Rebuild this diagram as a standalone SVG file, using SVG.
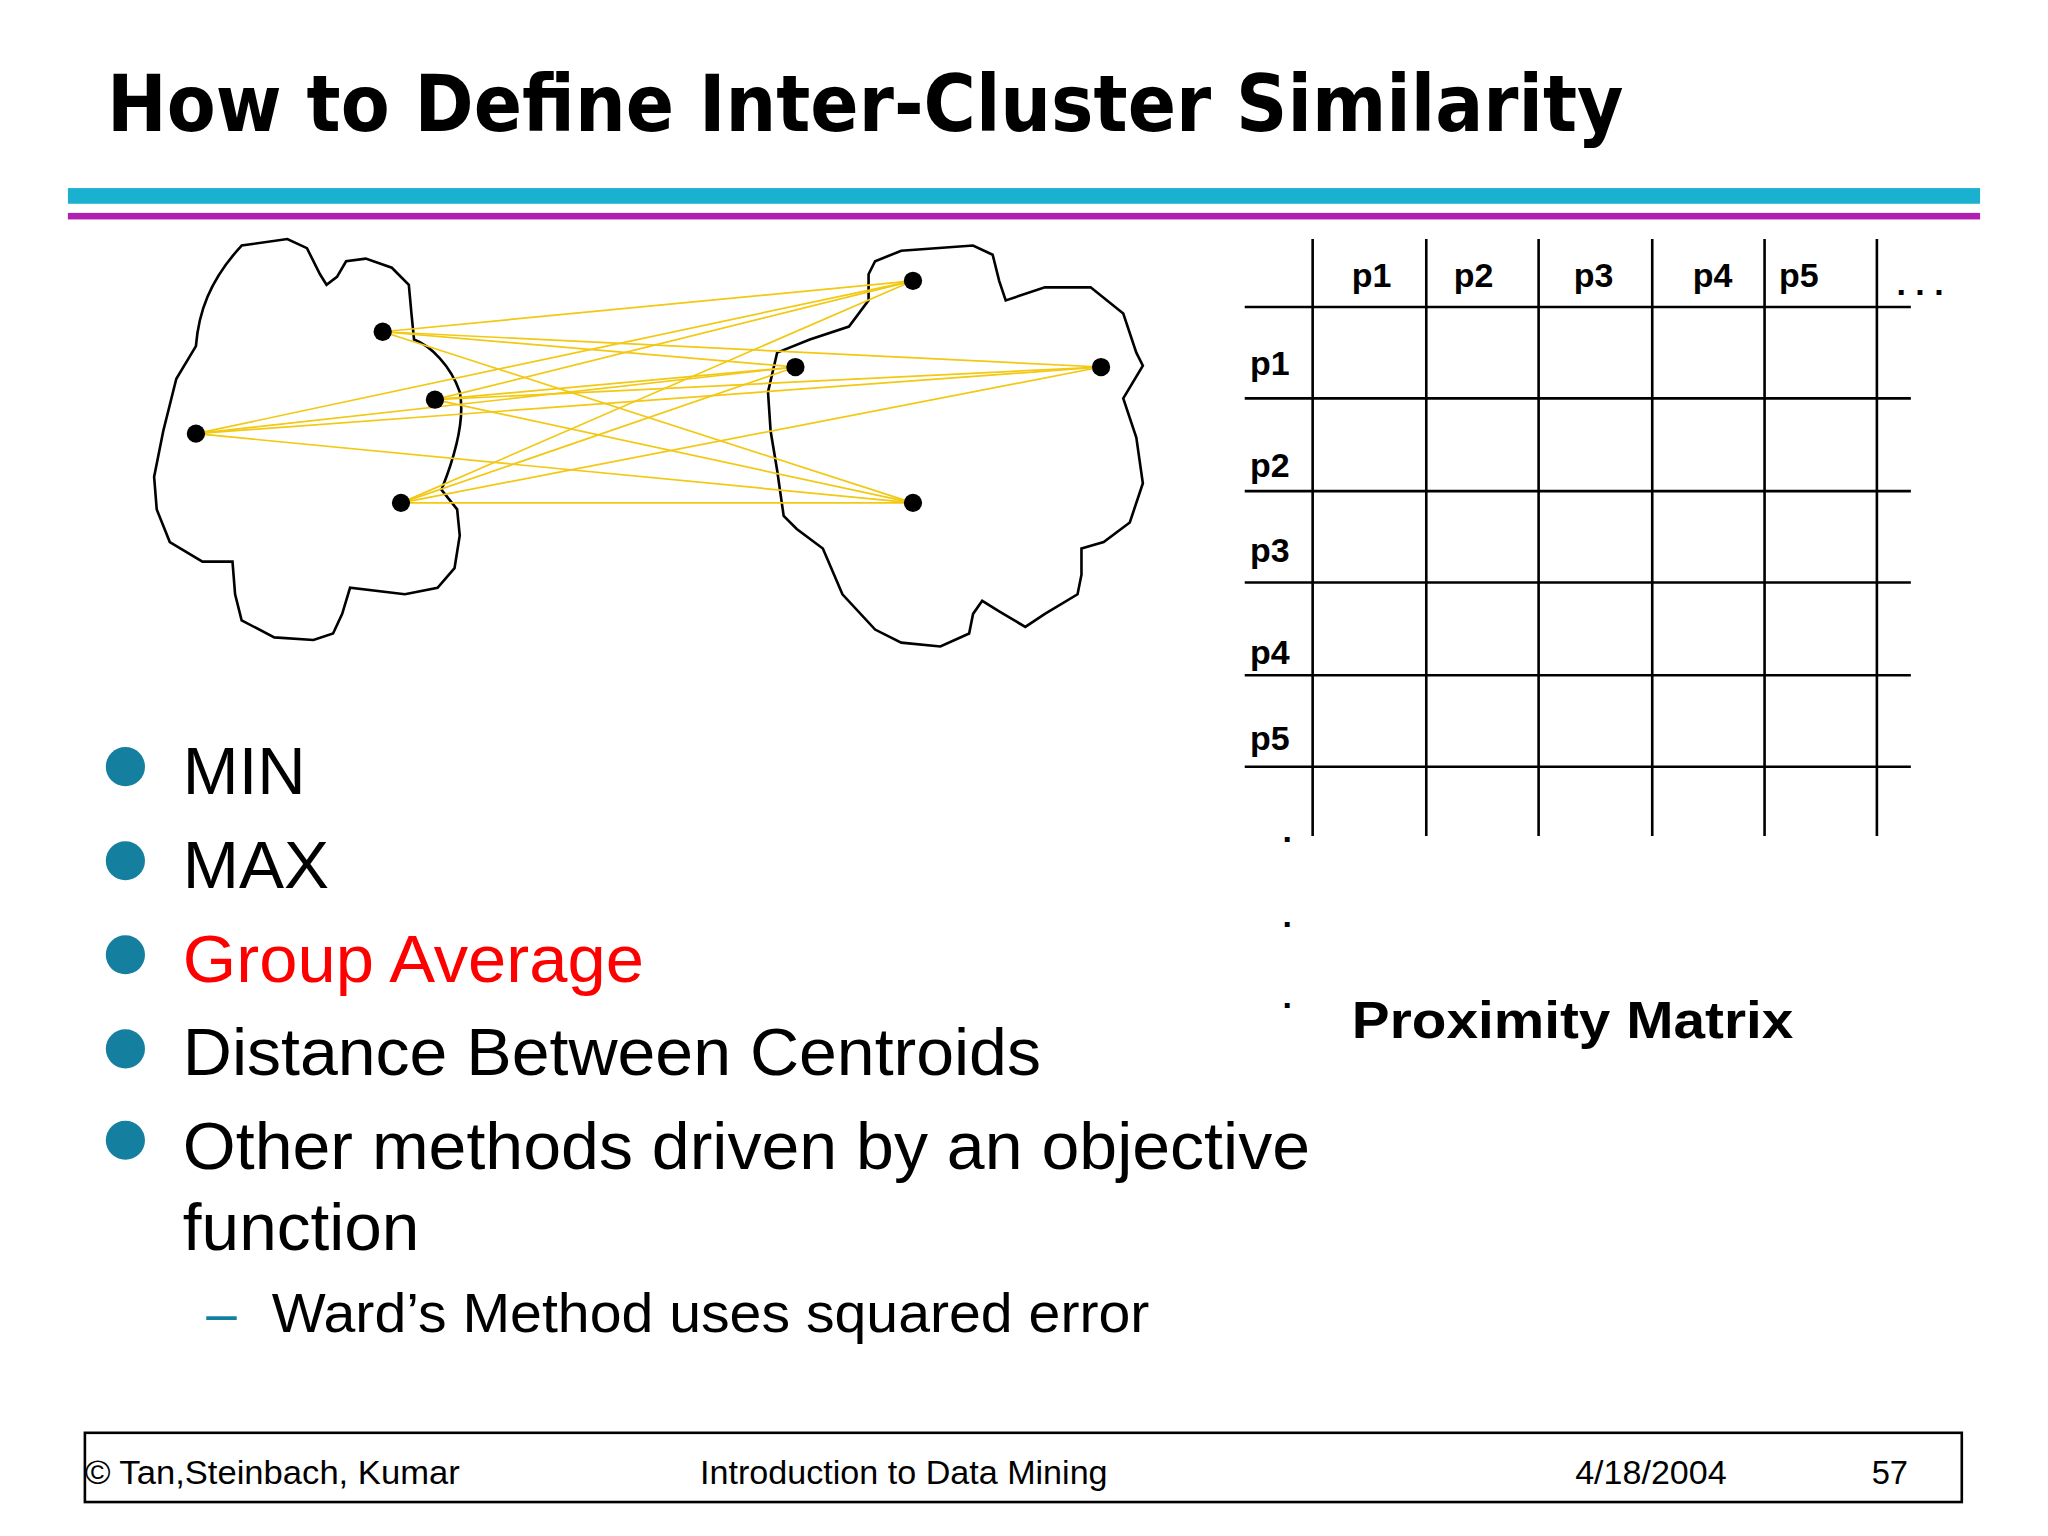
<svg xmlns="http://www.w3.org/2000/svg" width="2048" height="1536" viewBox="0 0 2048 1536">
<style>
text{font-family:"Liberation Sans",Arial,sans-serif;fill:#000}
.b{font-weight:bold}
.lbl{font-size:26px;font-weight:bold}
.bul{font-size:51px}
.ft{font-size:25px}
.grid line{stroke:#000;stroke-width:2}
.con line{stroke:#f2c811;stroke-width:1.3}
.blob{fill:none;stroke:#000;stroke-width:2}
</style>
<rect width="2048" height="1536" fill="#fff"/>
<g transform="scale(1.30612)">
<text x="82" y="100" class="b" font-size="60" style="font-family:'DejaVu Sans',Verdana,sans-serif" textLength="1161" lengthAdjust="spacingAndGlyphs">How to Define Inter-Cluster Similarity</text>
<rect x="52" y="144" width="1464" height="12" fill="#1ab0d0"/>
<rect x="52" y="163" width="1464" height="5" fill="#b21fb0"/>
<g id="cluster-left"><path class="blob" d="M150,265 C152,240 160,215 185,188 L220,183 L235,190 L245,210 L250,218 L258,212 L265,200 L280,198 L300,205 L313,218 L315,240 L317,260 C330,265 345,280 352,300 C356,320 350,345 338,375 L350,390 L352,410 L348,435 L335,450 L310,455 L268,450 L262,470 L255,485 L240,490 L210,488 L185,475 L180,455 L178,430 L155,430 L130,415 L120,390 L118,365 L125,330 L135,290 Z"/></g>
<g id="cluster-right"><path class="blob" d="M665,210 L670,200 L690,192 L745,188 L760,195 L765,215 L770,230 L800,220 L835,220 L860,240 L870,270 L875,280 L860,305 L870,335 L875,370 L865,400 L845,415 L828,420 L828,440 L825,455 L800,470 L785,480 L765,468 L752,460 L745,470 L742,485 L720,495 L690,492 L670,482 L645,455 L630,420 L610,405 L600,395 L595,360 L590,330 L588,300 L595,270 L620,260 L650,250 L665,230 Z"/></g>
<g id="connectors" class="con">
<line x1="293" y1="254" x2="699" y2="215"/><line x1="293" y1="254" x2="609" y2="281"/><line x1="293" y1="254" x2="843" y2="281"/><line x1="293" y1="254" x2="699" y2="385"/>
<line x1="333" y1="306" x2="699" y2="215"/><line x1="333" y1="306" x2="609" y2="281"/><line x1="333" y1="306" x2="843" y2="281"/><line x1="333" y1="306" x2="699" y2="385"/>
<line x1="150" y1="332" x2="699" y2="215"/><line x1="150" y1="332" x2="609" y2="281"/><line x1="150" y1="332" x2="843" y2="281"/><line x1="150" y1="332" x2="699" y2="385"/>
<line x1="307" y1="385" x2="699" y2="215"/><line x1="307" y1="385" x2="609" y2="281"/><line x1="307" y1="385" x2="843" y2="281"/><line x1="307" y1="385" x2="699" y2="385"/>
</g>
<g id="points">
<circle cx="293" cy="254" r="7"/><circle cx="333" cy="306" r="7"/><circle cx="150" cy="332" r="7"/><circle cx="307" cy="385" r="7"/>
<circle cx="699" cy="215" r="7"/><circle cx="609" cy="281" r="7"/><circle cx="843" cy="281" r="7"/><circle cx="699" cy="385" r="7"/>
</g>
<g id="matrix" class="grid">
<line x1="1005" y1="183" x2="1005" y2="640"/><line x1="1092" y1="183" x2="1092" y2="640"/><line x1="1178" y1="183" x2="1178" y2="640"/><line x1="1265" y1="183" x2="1265" y2="640"/><line x1="1351" y1="183" x2="1351" y2="640"/><line x1="1437" y1="183" x2="1437" y2="640"/>
<line x1="953" y1="235" x2="1463" y2="235"/><line x1="953" y1="305" x2="1463" y2="305"/><line x1="953" y1="376" x2="1463" y2="376"/><line x1="953" y1="446" x2="1463" y2="446"/><line x1="953" y1="517" x2="1463" y2="517"/><line x1="953" y1="587" x2="1463" y2="587"/>
<text x="1035" y="220" class="lbl">p1</text><text x="1113" y="220" class="lbl">p2</text><text x="1205" y="220" class="lbl">p3</text><text x="1296" y="220" class="lbl">p4</text><text x="1362" y="220" class="lbl">p5</text>
<text x="1452" y="226" class="lbl">. . .</text>
<text x="957" y="287" class="lbl">p1</text><text x="957" y="365" class="lbl">p2</text><text x="957" y="430" class="lbl">p3</text><text x="957" y="508" class="lbl">p4</text><text x="957" y="574" class="lbl">p5</text>
<text x="982" y="645" class="lbl">.</text><text x="982" y="710" class="lbl">.</text><text x="982" y="772" class="lbl">.</text>
<text x="1035" y="795" class="b" font-size="40" textLength="338" lengthAdjust="spacingAndGlyphs">Proximity Matrix</text>
</g>
<g id="bullets" fill="#157fa0">
<circle cx="96" cy="587" r="15"/><circle cx="96" cy="659" r="15"/><circle cx="96" cy="731" r="15"/><circle cx="96" cy="803" r="15"/><circle cx="96" cy="873" r="15"/>
</g>
<text x="140" y="608" class="bul" textLength="94" lengthAdjust="spacingAndGlyphs">MIN</text>
<text x="140" y="680" class="bul" textLength="112" lengthAdjust="spacingAndGlyphs">MAX</text>
<text x="140" y="752" class="bul" style="fill:#f00" textLength="353" lengthAdjust="spacingAndGlyphs">Group Average</text>
<text x="140" y="823" class="bul" textLength="657" lengthAdjust="spacingAndGlyphs">Distance Between Centroids</text>
<text x="140" y="895" class="bul" textLength="863" lengthAdjust="spacingAndGlyphs">Other methods driven by an objective</text>
<text x="140" y="957" class="bul" textLength="181" lengthAdjust="spacingAndGlyphs">function</text>
<text x="158" y="1020" font-size="42" style="fill:#157fa0">–</text>
<text x="208" y="1020" font-size="42" textLength="672" lengthAdjust="spacingAndGlyphs">Ward’s Method uses squared error</text>
<g id="footer">
<rect x="65" y="1097" width="1437" height="53" fill="none" stroke="#000" stroke-width="2"/>
<text x="65" y="1136" class="ft" textLength="287" lengthAdjust="spacingAndGlyphs">© Tan,Steinbach, Kumar</text>
<text x="536" y="1136" class="ft" textLength="312" lengthAdjust="spacingAndGlyphs">Introduction to Data Mining</text>
<text x="1206" y="1136" class="ft" textLength="116" lengthAdjust="spacingAndGlyphs">4/18/2004</text>
<text x="1433" y="1136" class="ft">57</text>
</g>
</g>
</svg>
